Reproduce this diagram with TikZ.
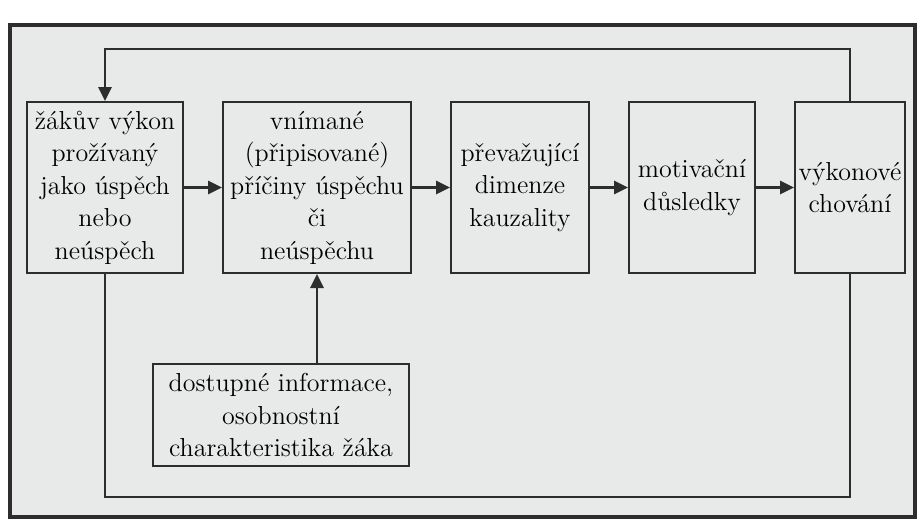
\documentclass[tikz,border=0pt]{standalone}
\usepackage{tikz}
\usetikzlibrary{arrows.meta,positioning}
\definecolor{InkGray}{RGB}{45,45,45}
\definecolor{Paper}{RGB}{232,234,234}
\tikzset{
  stage/.style={draw=InkGray,fill=Paper,line width=1pt,inner xsep=1.5pt,
    minimum height=85.5pt,align=center,font=\fontsize{13}{16.25}\selectfont},
  infobox/.style={draw=InkGray,fill=Paper,line width=1pt,inner xsep=2pt,
    minimum height=51pt,text width=124pt,align=center,font=\fontsize{13}{16.25}\selectfont},
  arrow/.style={-{Triangle[length=7pt,width=6.5pt]},line width=1.3pt,InkGray},
  feedline/.style={line width=1.2pt,InkGray}
}

\begin{document}
\begin{tikzpicture}[x=0.5pt,y=-0.5pt,node distance=19pt]
  \useasboundingbox[fill=white] (0,0) rectangle (922,526);
  \draw[line width=2pt,InkGray,fill=Paper] (10,25) rectangle (915,517);
  \node[stage,text width=75pt,anchor=west] (vykon) at (26,187.5)
    {žákův výkon\\prožívaný\\jako úspěch\\nebo\\neúspěch};
  \node[stage,text width=91pt,right=of vykon] (priciny)
    {vnímané\\(připisované)\\příčiny úspěchu\\či\\neúspěchu};
  \node[stage,text width=66pt,right=of priciny] (dimenze)
    {převažující\\dimenze\\kauzality};
  \node[stage,text width=60pt,right=of dimenze] (dusledky)
    {motivační\\důsledky};
  \node[stage,text width=55pt,inner xsep=0pt,right=of dusledky] (chovani)
    {výkonové\\chování};
  \node[infobox] (info) at (281,415)
    {dostupné informace,\\osobnostní\\charakteristika žáka};
  \draw[arrow] (vykon) -- (priciny);
  \draw[arrow] (priciny) -- (dimenze);
  \draw[arrow] (dimenze) -- (dusledky);
  \draw[arrow] (dusledky) -- (chovani);
  \draw[arrow] (info.north -| priciny.south) -- (priciny.south);
  % zpetna vazba
  \draw[arrow] (chovani.north) -- ++(0,-52) -| (vykon.north);
  \draw[feedline] (vykon.south) -- ++(0,223) -| (chovani.south);
\end{tikzpicture}
\end{document}
